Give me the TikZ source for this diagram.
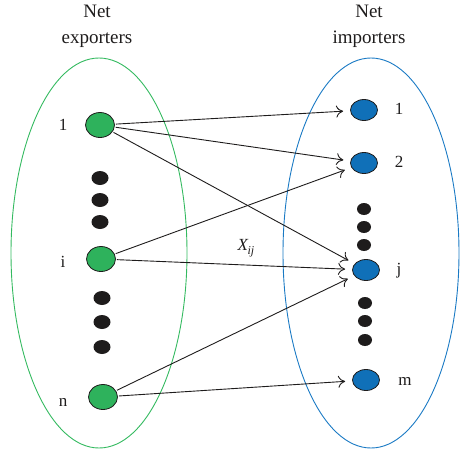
\documentclass[tikz,border=0pt]{standalone}
\usepackage{fontspec}
\setmainfont{Liberation Serif}
\usetikzlibrary{arrows.meta,shapes.geometric}
\definecolor{grp}{RGB}{46,178,92}
\definecolor{grpline}{RGB}{52,186,96}
\definecolor{blp}{RGB}{16,112,184}
\definecolor{blpline}{RGB}{26,122,196}
\definecolor{dotc}{RGB}{30,28,28}
\begin{document}
\begin{tikzpicture}[x=1pt,y=-1pt,
  expnode/.style={ellipse,draw=dotc,line width=0.8pt,fill=grp,minimum width=29pt,minimum height=25pt,inner sep=0pt},
  impnode/.style={ellipse,draw=dotc,line width=0.8pt,fill=blp,minimum width=27pt,minimum height=21pt,inner sep=0pt},
  bigdot/.style={ellipse,fill=dotc,minimum width=17pt,minimum height=14pt,inner sep=0pt},
  smalldot/.style={ellipse,fill=dotc,minimum width=14pt,minimum height=12pt,inner sep=0pt},
  lbl/.style={font=\fontsize{17}{19}\selectfont,text=dotc,inner sep=0pt},
  head/.style={font=\fontsize{19}{26}\selectfont,text=dotc,align=center},
  flow/.style={draw=dotc,line width=0.9pt,-{To[length=7pt,width=12pt]},shorten >=7pt,shorten <=1pt}]
\useasboundingbox (0,0) rectangle (461,453);
% group outlines
\draw[grpline,line width=0.9pt] (99,253) ellipse [x radius=88, y radius=195];
\draw[blpline,line width=0.9pt] (371,253) ellipse [x radius=88, y radius=195];
% headings
\node[head] (hexp) at (97,26) {Net\\exporters};
\node[head] (himp) at (369,26) {Net\\importers};
% exporters
\node[expnode] (e1) at (100,125) {};
\node[expnode] (ei) at (101,259) {};
\node[expnode] (en) at (103,397) {};
\node[bigdot] (ld1) at (100,178) {};
\node[bigdot] (ld2) at (100,200) {};
\node[bigdot] (ld3) at (100,222) {};
\node[bigdot] (ld4) at (102,298) {};
\node[bigdot] (ld5) at (102,322) {};
\node[bigdot] (ld6) at (102,347) {};
\node[lbl] (le1) at (63,125) {1};
\node[lbl] (lei) at (63,262) {i};
\node[lbl] (len) at (63,402) {n};
% importers
\node[impnode] (m1) at (364,110) {};
\node[impnode] (m2) at (364,163) {};
\node[impnode] (mj) at (366,270) {};
\node[impnode] (mm) at (366,380) {};
\node[smalldot] (rd1) at (364,209) {};
\node[smalldot] (rd2) at (364,227) {};
\node[smalldot] (rd3) at (364,245) {};
\node[smalldot] (rd4) at (365,303) {};
\node[smalldot] (rd5) at (365,321) {};
\node[smalldot] (rd6) at (365,340) {};
\node[lbl] (lm1) at (399,109) {1};
\node[lbl] (lm2) at (399,162) {2};
\node[lbl] (lmj) at (399,271) {j};
\node[lbl] (lmm) at (405,381) {m};
% flows
\draw[flow] (e1) -- (m1);
\draw[flow] (e1) -- (m2);
\draw[flow] (e1) -- (mj);
\draw[flow] (ei) -- (m2);
\draw[flow] (ei) -- (mj);
\draw[flow] (en) -- (mj);
\draw[flow] (en) -- (mm);
\node[lbl] (xij) at (246,248) {\itshape X\kern-0.5pt\raisebox{-4pt}{\fontsize{12}{14}\selectfont ij}};
\end{tikzpicture}
\end{document}
